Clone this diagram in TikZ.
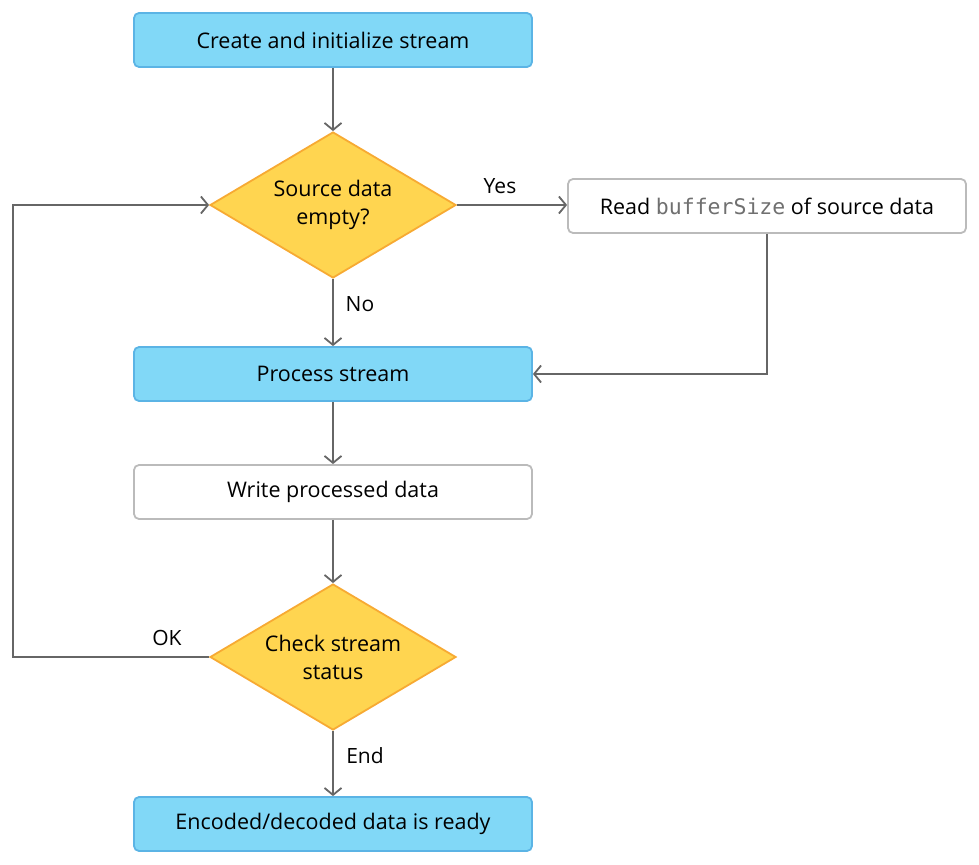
\documentclass[tikz,border=0pt]{standalone}
\usepackage{fontspec}
\setmainfont{Open Sans}
\setmonofont{DejaVu Sans Mono}
\usetikzlibrary{shapes.geometric,arrows.meta}
\definecolor{bfill}{HTML}{81D8F7}
\definecolor{bline}{HTML}{5BB4E5}
\definecolor{yfill}{HTML}{FFD550}
\definecolor{yline}{HTML}{F7AA33}
\definecolor{wline}{HTML}{BBBBBB}
\definecolor{conn}{HTML}{666666}
\definecolor{codegray}{HTML}{707070}
\tikzset{
  base/.style={rounded corners=5pt, minimum width=398pt, minimum height=54pt, line width=1.8pt, inner sep=0pt, font=\fontsize{21.5}{26}\selectfont},
  bluebox/.style={base, fill=bfill, draw=bline},
  whitebox/.style={base, fill=white, draw=wline},
  decision/.style={diamond, aspect=1.685, minimum width=246pt, minimum height=146pt, inner sep=0pt, fill=yfill, draw=yline, line width=1.8pt, align=center, font=\fontsize{21.5}{28}\selectfont},
  arr/.style={draw=conn, line width=1.8pt, -{Straight Barb[length=7pt,width=17pt,line width=1.8pt]}},
  lbl/.style={font=\fontsize{21}{25}\selectfont, inner sep=0pt}
}
\begin{document}
\begin{tikzpicture}[x=1pt,y=-1pt]
\useasboundingbox (0,0) rectangle (979,864);
\node[bluebox] (b1) at (333,40) {Create and initialize stream};
\node[decision] (d1) at (333,205) {Source data\\empty?};
\node[whitebox] (rd) at (767,206) {Read {\ttfamily\color{codegray}bufferSize} of source data};
\node[bluebox] (ps) at (333,374) {Process stream};
\node[whitebox] (wp) at (333,492) {Write processed data};
\node[decision] (d2) at (333,657) {Check stream\\status};
\node[bluebox] (fin) at (333,824) {Encoded/decoded data is ready};
\coordinate (lp) at (13,657);
\draw[arr] (b1.south) -- (d1.north);
\draw[arr] (d1.east) -- (d1.east -| rd.west);
\draw[arr] (rd.south) |- (ps.east);
\draw[arr] (d1.south) -- (ps.north);
\draw[arr] (ps.south) -- (wp.north);
\draw[arr] (wp.south) -- (d2.north);
\draw[arr] (d2.west) -- (lp) |- (d1.west);
\draw[arr] (d2.south) -- (fin.north);
\node[lbl] (yes) at (500,186) {Yes};
\node[lbl] (no) at (360,304) {No};
\node[lbl] (ok) at (167,638) {OK};
\node[lbl] (end) at (365,756) {End};
\end{tikzpicture}
\end{document}
